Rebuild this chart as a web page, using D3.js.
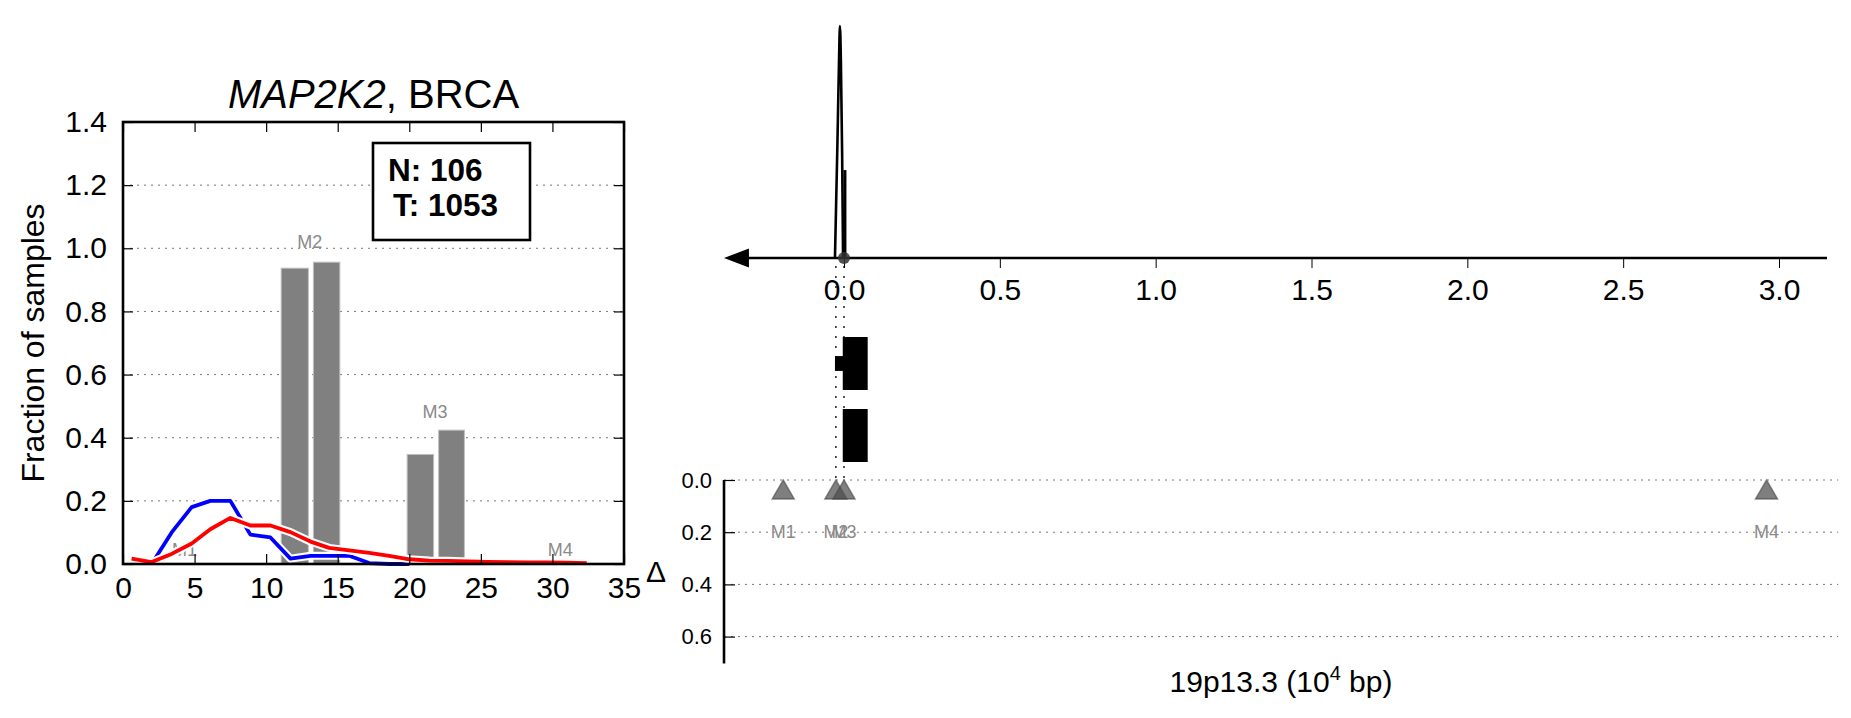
<!DOCTYPE html>
<html><head><meta charset="utf-8">
<script src="https://cdn.jsdelivr.net/npm/d3@7"></script>
<style>
body{margin:0;background:#fff}
svg{display:block}
text{font-family:"Liberation Sans",Arial,Helvetica,sans-serif}
</style>
</head><body>
<svg id="c" width="1851" height="718"></svg>
<script>
// ---------------- data ----------------
// left panel: fraction of samples vs. position
const posX = [0.6, 2.0, 3.4, 4.8, 6.1, 7.5, 8.9, 10.3, 11.7, 13.1, 14.4, 15.8, 17.2, 18.6, 20.0, 21.4, 22.7, 24.1, 25.5, 26.9, 28.3, 29.7, 31.0, 32.4];
const normalFrac = [null, 0.0, 0.10, 0.18, 0.20, 0.20, 0.093, 0.084, 0.017, 0.026, 0.026, 0.026, 0.003, 0.0, 0.0, null, null, null, null, null, null, null, null, null];
const tumorFrac = [0.017, 0.006, 0.032, 0.065, 0.110, 0.146, 0.122, 0.122, 0.101, 0.071, 0.051, 0.043, 0.035, 0.026, 0.015, 0.011, 0.010, 0.008, 0.007, 0.006, 0.005, 0.005, 0.004, 0.003];
const barStart = [11.05, 13.3, 19.85, 22.05];
const barEnd = [12.95, 15.15, 21.7, 23.85];
const barFrac = [0.937, 0.956, 0.347, 0.424];
const motifNames = ["M1", "M2", "M3", "M4"];
const motifLabelX = [4.3, 13.05, 21.8, 30.55];
const motifLabelY = [0.025, 1.0, 0.462, 0.025];
const leftXTicks = [0, 5, 10, 15, 20, 25, 30, 35];
const leftYTicks = [0.0, 0.2, 0.4, 0.6, 0.8, 1.0, 1.2, 1.4];
const sampleCounts = ["N: 106", "T: 1053"];
const geneName = "MAP2K2";
const cancerName = "BRCA";

// right panel
const topTicks = [0.0, 0.5, 1.0, 1.5, 2.0, 2.5, 3.0];
const densX = [-0.029, -0.021, -0.016, -0.013, -0.010, -0.006, -0.003];
const densY = [0, 0.5, 0.85, 1.0, 0.85, 0.45, 0];
const dens2X = [0.003, 0.003];
const dens2Y = [0, 0.379];
const exonStart = [-0.004, -0.029, -0.004];
const exonEnd = [0.076, -0.003, 0.076];
const exonRow = [0, 0, 1];
const exonHeight = [1, 0.28, 1];
const motifPos = [-0.195, -0.026, 0.0, 2.96];
const motifDelta = [0.036, 0.036, 0.036, 0.036];
const deltaTicks = [0.0, 0.2, 0.4, 0.6];
const xLabelMain = "19p13.3 (10";
const xLabelSup = "4";
const xLabelEnd = " bp)";

// ---------------- drawing ----------------
const svg = d3.select("#c");
const fmt1 = d3.format(".1f");

// ===== left panel =====
const xL = d3.scaleLinear().domain([0, 35]).range([123, 624]);
const yL = d3.scaleLinear().domain([0, 1.4]).range([564, 122]);
const L = svg.append("g");

// gridlines
L.selectAll("line.grid").data(leftYTicks.filter(v => v > 0 && v < 1.4)).join("line")
  .attr("x1", xL(0)).attr("x2", xL(35)).attr("y1", d => yL(d)).attr("y2", d => yL(d))
  .attr("stroke", "#777").attr("stroke-width", 1).attr("stroke-dasharray", "2,5");

// bars
L.selectAll("rect.bar").data(barFrac).join("rect")
  .attr("x", (d, i) => xL(barStart[i])).attr("width", (d, i) => xL(barEnd[i]) - xL(barStart[i]))
  .attr("y", d => yL(d)).attr("height", d => yL(0) - yL(d))
  .attr("fill", "#808080").attr("stroke", "#c0c0c0").attr("stroke-width", 1);

// motif labels
L.selectAll("text.mlab").data(motifNames).join("text")
  .attr("x", (d, i) => xL(motifLabelX[i])).attr("y", (d, i) => yL(motifLabelY[i]))
  .attr("text-anchor", "middle").attr("font-size", 18).attr("fill", "#8a8a8a").text(d => d);

// lines with white halo
function drawLine(vals, color) {
  const data = posX.map((x, i) => [x, vals[i]]);
  const ln = d3.line().defined(d => d[1] != null).x(d => xL(d[0])).y(d => yL(d[1]));
  L.append("path").attr("d", ln(data)).attr("fill", "none").attr("stroke", "#fff")
    .attr("stroke-width", 8).attr("stroke-linejoin", "round");
  L.append("path").attr("d", ln(data)).attr("fill", "none").attr("stroke", color)
    .attr("stroke-width", 3.8).attr("stroke-linejoin", "round");
}
drawLine(normalFrac, "#0000ff");
drawLine(tumorFrac, "#ff0000");

// axes (inward ticks)
const axB = L.append("g").attr("transform", `translate(0,${yL(0)})`)
  .call(d3.axisBottom(xL).tickValues(leftXTicks).tickSize(-10).tickPadding(13).tickFormat(d3.format("d")));
const axLft = L.append("g").attr("transform", `translate(${xL(0)},0)`)
  .call(d3.axisLeft(yL).tickValues(leftYTicks).tickSize(-10).tickPadding(16).tickFormat(fmt1));
const axT = L.append("g").attr("transform", `translate(0,${yL(1.4)})`)
  .call(d3.axisTop(xL).tickValues(leftXTicks).tickSize(-10).tickFormat(""));
const axR = L.append("g").attr("transform", `translate(${xL(35)},0)`)
  .call(d3.axisRight(yL).tickValues(leftYTicks).tickSize(-10).tickFormat(""));
[axB, axLft, axT, axR].forEach(a => {
  a.select(".domain").remove();
  a.selectAll(".tick line").attr("stroke", "#000").attr("stroke-width", 1.2);
  a.selectAll("text").attr("font-size", 30).attr("fill", "#000")
    .style("font-family", '"Liberation Sans",Arial,sans-serif');
});
L.append("rect").attr("x", xL(0)).attr("y", yL(1.4)).attr("width", xL(35) - xL(0)).attr("height", yL(0) - yL(1.4))
  .attr("fill", "none").attr("stroke", "#000").attr("stroke-width", 2.6);

// title
const title = L.append("text").attr("x", (xL(0) + xL(35)) / 2).attr("y", 108)
  .attr("text-anchor", "middle").attr("font-size", 40);
title.append("tspan").attr("font-style", "italic").text(geneName);
title.append("tspan").text(", " + cancerName);

// y label
L.append("text").attr("transform", `translate(33,${(yL(0) + yL(1.4)) / 2}) rotate(-90)`)
  .attr("text-anchor", "middle").attr("dominant-baseline", "central").attr("font-size", 32)
  .text("Fraction of samples");

// N / T box
L.append("rect").attr("x", 373).attr("y", 143).attr("width", 157).attr("height", 97)
  .attr("fill", "#fff").attr("stroke", "#000").attr("stroke-width", 2.6);
L.selectAll("text.nt").data(sampleCounts).join("text")
  .attr("x", (d, i) => i === 0 ? 388 : 393).attr("y", (d, i) => i === 0 ? 181 : 216)
  .attr("font-size", 31.5).attr("font-weight", "bold").text(d => d);

// ===== right panel =====
const xR = d3.scaleLinear().domain([0, 3]).range([844, 1779]);
const yTop = 258;
const yPk = d3.scaleLinear().domain([0, 1]).range([yTop, 26]);
const yD = d3.scaleLinear().domain([0, 0.6]).range([480, 636.6]);
const rowScale = d3.scaleBand().domain([0, 1]).range([337, 462]).paddingInner(0.264).paddingOuter(0);
const R = svg.append("g");

// lower gridlines
R.selectAll("line.dgrid").data(deltaTicks).join("line")
  .attr("x1", xR(-0.385)).attr("x2", xR(3.19)).attr("y1", d => yD(d)).attr("y2", d => yD(d))
  .attr("stroke", "#777").attr("stroke-width", 1).attr("stroke-dasharray", "2,5");

// dotted verticals at motif positions M2, M3
R.selectAll("line.vdot").data([motifPos[1], motifPos[2]]).join("line")
  .attr("x1", d => xR(d)).attr("x2", d => xR(d)).attr("y1", yTop + 8).attr("y2", yD(0))
  .attr("stroke", "#000").attr("stroke-width", 1.3).attr("stroke-dasharray", "2,8");

// top axis
const axTop = R.append("g").attr("transform", `translate(0,${yTop})`)
  .call(d3.axisBottom(xR).tickValues(topTicks).tickSize(10).tickPadding(11).tickFormat(fmt1));
axTop.select(".domain").remove();
axTop.selectAll(".tick line").attr("stroke", "#000").attr("stroke-width", 1);
axTop.selectAll("text").attr("font-size", 30).attr("fill", "#000")
  .style("font-family", '"Liberation Sans",Arial,sans-serif');
R.append("line").attr("x1", xR(-0.31)).attr("x2", xR(3.154)).attr("y1", yTop).attr("y2", yTop)
  .attr("stroke", "#000").attr("stroke-width", 2.6);
R.append("path")
  .attr("d", `M${xR(-0.385)},${yTop} L${xR(-0.305)},${yTop - 9.5} L${xR(-0.305)},${yTop + 9.5} Z`)
  .attr("fill", "#000");

// density peak
const pk = d3.line().x(d => xR(d[0])).y(d => yPk(d[1])).curve(d3.curveMonotoneX);
R.append("path").attr("d", pk(densX.map((x, i) => [x, densY[i]])))
  .attr("fill", "none").attr("stroke", "#000").attr("stroke-width", 2.6);
R.append("path").attr("d", d3.line().x(d => xR(d[0])).y(d => yPk(d[1]))(dens2X.map((x, i) => [x, dens2Y[i]])))
  .attr("fill", "none").attr("stroke", "#000").attr("stroke-width", 3);
R.append("circle").attr("cx", xR(0)).attr("cy", yTop).attr("r", 6)
  .attr("fill", "#333").attr("fill-opacity", 0.85);

// gene structure
R.selectAll("rect.exon").data(exonStart).join("rect")
  .attr("x", d => xR(d)).attr("width", (d, i) => xR(exonEnd[i]) - xR(d))
  .attr("y", (d, i) => rowScale(exonRow[i]) + rowScale.bandwidth() * (1 - exonHeight[i]) / 2)
  .attr("height", (d, i) => rowScale.bandwidth() * exonHeight[i])
  .attr("fill", "#000");

// lower axis
const axD = R.append("g").attr("transform", `translate(${xR(-0.385)},0)`)
  .call(d3.axisLeft(yD).tickValues(deltaTicks).tickSize(-11).tickPadding(12).tickFormat(fmt1));
axD.select(".domain").remove();
axD.selectAll(".tick line").attr("stroke", "#000").attr("stroke-width", 1.2);
axD.selectAll("text").attr("font-size", 22).attr("fill", "#000")
  .style("font-family", '"Liberation Sans",Arial,sans-serif');
R.append("line").attr("x1", xR(-0.385)).attr("x2", xR(-0.385)).attr("y1", yD(0)).attr("y2", yD(0.703))
  .attr("stroke", "#000").attr("stroke-width", 2.6);
R.append("text").attr("x", 656).attr("y", (yD(0) + yD(0.703)) / 2)
  .attr("text-anchor", "middle").attr("dominant-baseline", "central").attr("font-size", 30).text("Δ");

// triangles
const triW = 22, triH = 19;
R.selectAll("path.tri").data(motifPos).join("path")
  .attr("transform", (d, i) => `translate(${xR(d)},${yD(motifDelta[i])})`)
  .attr("d", `M0,${-triH / 2} L${triW / 2},${triH / 2} L${-triW / 2},${triH / 2} Z`)
  .attr("fill", "#4d4d4d").attr("fill-opacity", 0.72)
  .attr("stroke", "#444").attr("stroke-opacity", 0.6).attr("stroke-width", 1.5);
R.selectAll("text.tlab").data(motifNames).join("text")
  .attr("x", (d, i) => xR(motifPos[i])).attr("y", yD(0.2))
  .attr("text-anchor", "middle").attr("dominant-baseline", "central")
  .attr("font-size", 18).attr("fill", "#8a8a8a").text(d => d);

// x label
const xl = R.append("text").attr("x", 1281).attr("y", 692).attr("text-anchor", "middle").attr("font-size", 30);
xl.append("tspan").text(xLabelMain);
xl.append("tspan").attr("font-size", 20).attr("dy", -12).text(xLabelSup);
xl.append("tspan").attr("dy", 12).text(xLabelEnd);
</script>
</body></html>
